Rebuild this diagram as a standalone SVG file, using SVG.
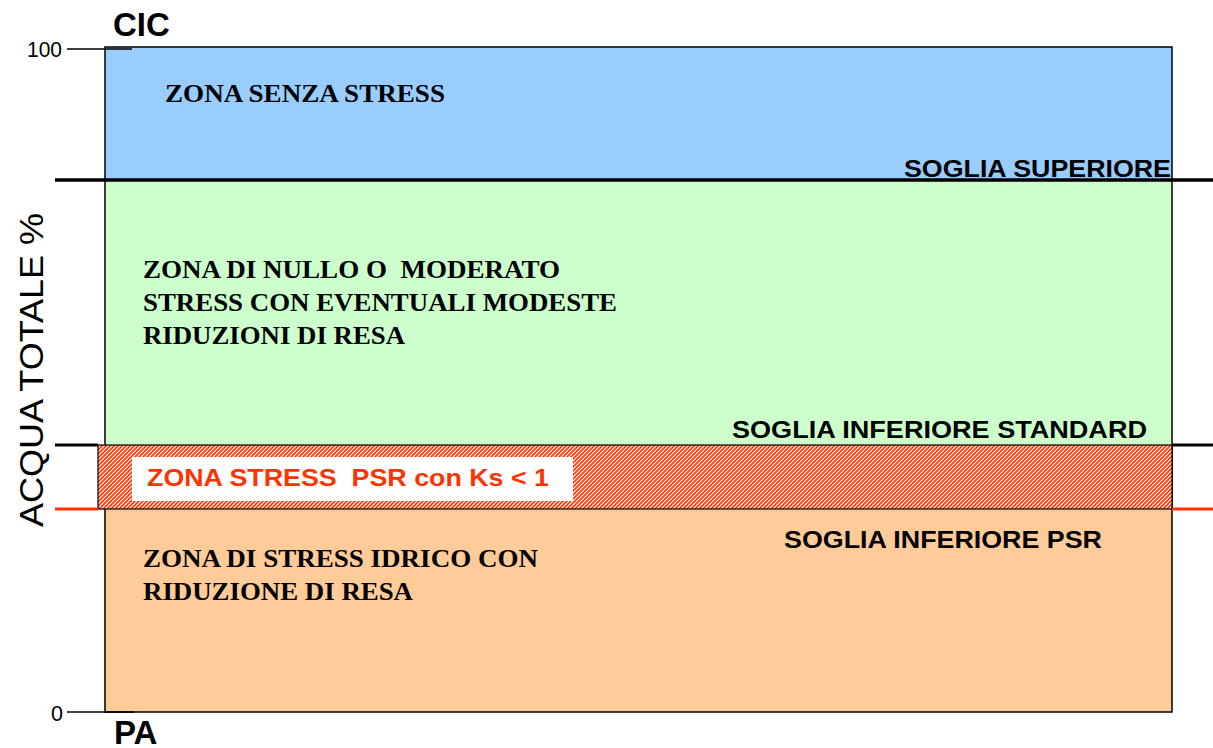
<svg xmlns="http://www.w3.org/2000/svg" width="1213" height="748" viewBox="0 0 1213 748">
<style>
.ax{font-family:"Liberation Sans",Arial,sans-serif;fill:#000}
.big{font-family:"Liberation Sans",Arial,sans-serif;font-weight:bold;font-size:33px;fill:#000}
.zt{font-family:"Liberation Serif","Times New Roman",serif;font-weight:bold;font-size:26px;fill:#000}
.sg{font-family:"Liberation Sans",Arial,sans-serif;font-weight:bold;font-size:24px;fill:#000}
.red{fill:#FF3300}
.tick{stroke:#000;stroke-width:1.5}
</style>
<defs>
<pattern id="hatch" patternUnits="userSpaceOnUse" width="4" height="4">
<rect width="4" height="4" fill="#fff"/>
<path d="M-1,1 l2,-2 M0,4 l4,-4 M3,5 l2,-2" stroke="#FF3300" stroke-width="1.6"/>
</pattern>
</defs>
<rect width="1213" height="748" fill="#fff"/>
<g id="zone-senza-stress">
<rect x="105" y="47" width="1067" height="133" fill="#99CCFF"/>
<text class="zt" x="165" y="102" textLength="280" lengthAdjust="spacingAndGlyphs">ZONA SENZA STRESS</text>
</g>
<g id="zone-nullo">
<rect x="105" y="180" width="1067" height="265" fill="#CCFFCC"/>
<text class="zt" x="143" y="278" textLength="417" lengthAdjust="spacingAndGlyphs" xml:space="preserve">ZONA DI NULLO O  MODERATO</text>
<text class="zt" x="143" y="311" textLength="474" lengthAdjust="spacingAndGlyphs">STRESS CON EVENTUALI MODESTE</text>
<text class="zt" x="143" y="344" textLength="262" lengthAdjust="spacingAndGlyphs">RIDUZIONI DI RESA</text>
</g>
<g id="zone-idrico">
<rect x="105" y="509" width="1067" height="203" fill="#FFCC99"/>
<text class="zt" x="143" y="567" textLength="395" lengthAdjust="spacingAndGlyphs">ZONA DI STRESS IDRICO CON</text>
<text class="zt" x="143" y="600" textLength="270" lengthAdjust="spacingAndGlyphs">RIDUZIONE DI RESA</text>
</g>
<rect x="105" y="47" width="1067" height="665" fill="none" stroke="#000" stroke-width="1.5"/>
<g id="zone-psr">
<rect x="98" y="445" width="1074" height="64" fill="url(#hatch)" stroke="#000" stroke-width="1.2"/>
<rect x="132" y="457" width="441" height="44" fill="#fff"/>
<text class="sg red" x="147" y="486" textLength="402" lengthAdjust="spacingAndGlyphs" xml:space="preserve">ZONA STRESS  PSR con Ks &lt; 1</text>
</g>
<g id="thresholds">
<line x1="55" y1="180" x2="1213" y2="180" stroke="#000" stroke-width="3.5"/>
<line x1="55" y1="445" x2="98" y2="445" stroke="#000" stroke-width="3"/>
<line x1="1172" y1="445" x2="1213" y2="445" stroke="#000" stroke-width="3"/>
<line x1="55" y1="509" x2="98" y2="509" stroke="#FF3300" stroke-width="3"/>
<line x1="1172" y1="509" x2="1213" y2="509" stroke="#FF3300" stroke-width="3"/>
<text class="sg" x="904" y="177" textLength="267" lengthAdjust="spacingAndGlyphs">SOGLIA SUPERIORE</text>
<text class="sg" x="732" y="438" textLength="415" lengthAdjust="spacingAndGlyphs">SOGLIA INFERIORE STANDARD</text>
<text class="sg" x="784" y="548" textLength="318" lengthAdjust="spacingAndGlyphs">SOGLIA INFERIORE PSR</text>
</g>
<g id="axis">
<line class="tick" x1="67" y1="49" x2="132" y2="49"/>
<line class="tick" x1="67" y1="712" x2="134" y2="712"/>
<text class="ax" x="27" y="57" style="font-size:22px" textLength="35" lengthAdjust="spacingAndGlyphs">100</text>
<text class="ax" x="51" y="721" style="font-size:22px" textLength="12" lengthAdjust="spacingAndGlyphs">0</text>
<text class="big" x="113" y="36">CIC</text>
<text class="big" x="114" y="744">PA</text>
<text class="ax" font-size="33" text-anchor="middle" transform="translate(43,370) rotate(-90)" textLength="314" lengthAdjust="spacingAndGlyphs">ACQUA TOTALE %</text>
</g>
</svg>
